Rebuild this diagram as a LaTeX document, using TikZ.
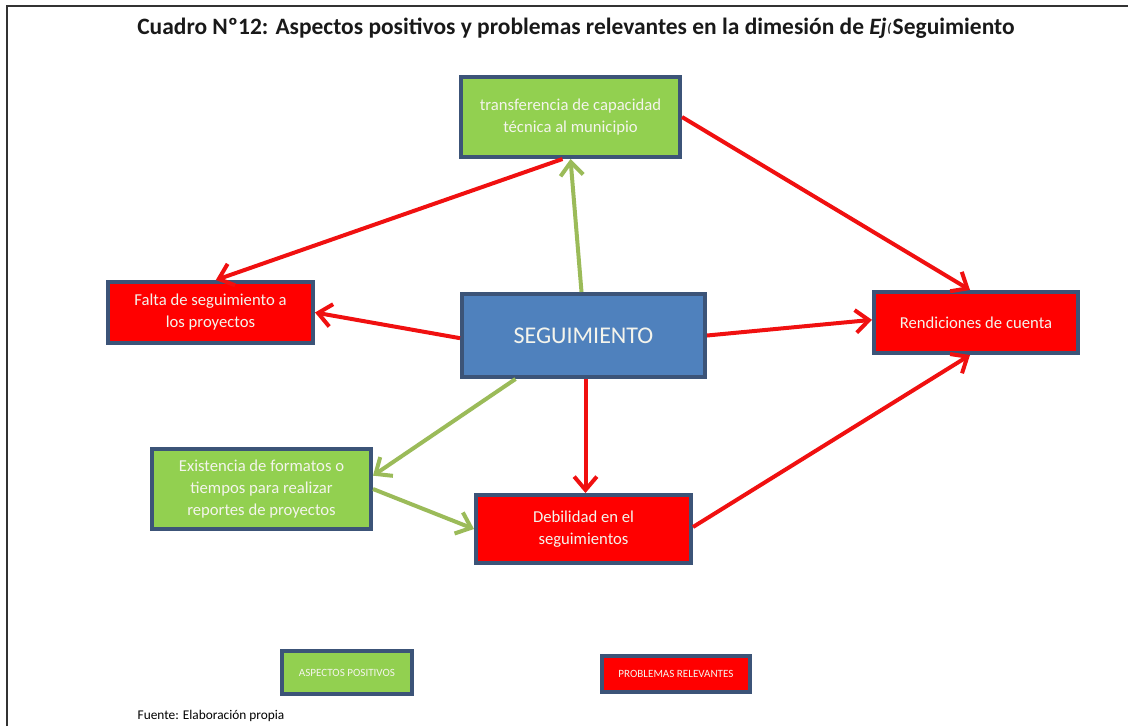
\documentclass[tikz,border=0pt]{standalone}
\usepackage{fontspec}
\setmainfont{Carlito}
\usetikzlibrary{arrows.meta}
\definecolor{boxedge}{HTML}{3C5478}
\definecolor{posfill}{HTML}{92D050}
\definecolor{probfill}{HTML}{FF0000}
\definecolor{mainfill}{HTML}{4F81BD}
\definecolor{posline}{HTML}{9BBB59}
\definecolor{probline}{HTML}{F01010}
\definecolor{boxtext}{HTML}{F4F4EC}
\begin{document}
\begin{tikzpicture}[x=0.75pt,y=-0.75pt,
  box/.style 2 args={draw=boxedge,line width=3pt,minimum width={#1*0.75pt},minimum height={#2*0.75pt},inner sep=2pt,align=center,text=boxtext,font=\fontsize{12.5}{16.5}\selectfont},
  posbox/.style 2 args={box={#1}{#2},fill=posfill},
  probbox/.style 2 args={box={#1}{#2},fill=probfill},
  legend/.style={font=\fontsize{8.3}{10}\selectfont},
  arr/.style={line width=3pt,-{Straight Barb[length=10pt,width=17pt,line width=3pt]}},
  posarr/.style={arr,draw=posline},
  probarr/.style={arr,draw=probline}]
\useasboundingbox (0,0) rectangle (1128,726);
\draw[line width=1.5pt,draw=black!80] (7,726) -- (7,6) -- (1128,6);

\node[font=\bfseries\fontsize{17.6}{20}\selectfont,text=black!90] (title) at (576,28)
  {Cuadro Nº12: Aspectos positivos y problemas relevantes en la dimesión de \textit{Ej\kern0.5pt\raisebox{0.15ex}{\scalebox{0.55}{(}}}\kern1pt Seguimiento};

\node[posbox={219}{80}] (trans) at (570.5,117)
  {transferencia de capacidad\\técnica al municipio};
\node[probbox={205}{61}] (falta) at (210.5,312.5)
  {Falta de seguimiento a\\los proyectos};
\node[box={243}{83},fill=mainfill,font=\fontsize{18}{21}\selectfont] (seg) at (583.5,335.5)
  {SEGUIMIENTO};
\node[probbox={204}{61}] (rend) at (976,322.5)
  {Rendiciones de cuenta};
\node[posbox={219}{80}] (exist) at (261.5,489)
  {Existencia de formatos o\\tiempos para realizar\\reportes de proyectos};
\node[probbox={215}{68}] (debil) at (583.5,529)
  {Debilidad en el\\seguimientos};

\node[posbox={130}{43},legend] (legpos) at (347,672.5)
  {ASPECTOS POSITIVOS};
\node[probbox={148}{36},legend] (legprob) at (676,674)
  {PROBLEMAS RELEVANTES};

\node[anchor=west,font=\fontsize{10}{12}\selectfont] (fuente) at (133,716)
  {Fuente: Elaboración propia};

% connectors
\draw[posarr] ([xshift=-1.5pt]seg.north) -- (trans.south);
\draw[probarr] ([xshift=-6pt]trans.south) -- ([xshift=4pt]falta.north);
\draw[probarr] (trans.east) -- ([xshift=-4.5pt]rend.north);
\draw[probarr] ([yshift=-2pt]seg.west) -- (falta.east);
\draw[probarr] (seg.east) -- ([yshift=2pt]rend.west);
\draw[posarr] ([xshift=-51pt]seg.south) -- ([yshift=10pt]exist.east);
\draw[probarr] ([xshift=1.5pt]seg.south) -- ([xshift=1.5pt]debil.north);
\draw[posarr] (exist.east) -- (debil.west);
\draw[probarr] ([yshift=1.5pt]debil.east) -- ([xshift=-4.5pt]rend.south);
\end{tikzpicture}
\end{document}
